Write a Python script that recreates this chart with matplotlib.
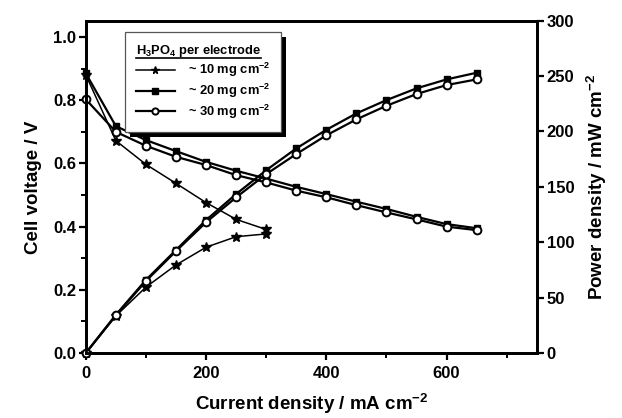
import numpy as np
import matplotlib
matplotlib.use('Agg')
import matplotlib.pyplot as plt
from matplotlib.lines import Line2D
from matplotlib.patches import Rectangle

plt.rcParams['font.family'] = ['Liberation Sans', 'DejaVu Sans']
plt.rcParams['font.weight'] = 'bold'
plt.rcParams['mathtext.fontset'] = 'custom'
plt.rcParams['mathtext.rm'] = 'Liberation Sans:bold'
plt.rcParams['mathtext.bf'] = 'Liberation Sans:bold'
plt.rcParams['mathtext.default'] = 'bf'

# current density (mA cm-2)
j_10 = [0, 50, 100, 150, 200, 250, 300]
j_20 = [0, 50, 100, 150, 200, 250, 300, 350, 400, 450, 500, 550, 600, 650]
j_30 = j_20

# cell voltage (V)
v_10 = [0.88, 0.672, 0.597, 0.537, 0.476, 0.423, 0.391]
v_20 = [0.885, 0.718, 0.674, 0.639, 0.605, 0.577, 0.552, 0.526, 0.503, 0.479, 0.456, 0.431, 0.408, 0.395]
v_30 = [0.803, 0.700, 0.656, 0.621, 0.595, 0.563, 0.540, 0.514, 0.493, 0.468, 0.445, 0.423, 0.400, 0.389]

# power density (mW cm-2)
p_10 = [0, 33.5, 59.5, 79.5, 95.5, 105, 107.5]
p_20 = [0, 34.5, 66, 93, 120, 143.5, 165, 184.7, 201.5, 216.3, 228.3, 238.9, 247, 253]
p_30 = [0, 34, 65, 92, 118, 140.5, 161.5, 179.6, 196.5, 210.9, 223.2, 233.8, 241.9, 247]

labels = ['~ 10 mg cm$^{-2}$', '~ 20 mg cm$^{-2}$', '~ 30 mg cm$^{-2}$']

fig = plt.figure(figsize=(6.22, 4.18), dpi=100)
ax = fig.add_axes([0.138, 0.1555, 0.725, 0.795])
ax2 = ax.twinx()

sty10 = dict(color='k', lw=1.1, marker='*', ms=7, mfc='k', mec='k', clip_on=False)
sty20 = dict(color='k', lw=1.6, marker='s', ms=4.8, mfc='k', mec='k', clip_on=False)
sty30 = dict(color='k', lw=1.6, marker='o', ms=5.6, mfc='white', mec='k', mew=1.4, clip_on=False)

h10, = ax.plot(j_10, v_10, **sty10)
h20, = ax.plot(j_20, v_20, **sty20)
h30, = ax.plot(j_30, v_30, **sty30)
ax2.plot(j_10, p_10, **sty10)
ax2.plot(j_20, p_20, **sty20)
ax2.plot(j_30, p_30, **sty30)

ax.set_xlim(0, 750)
ax.set_ylim(0, 1.052)
ax2.set_ylim(0, 300)

ax.set_xticks([0, 200, 400, 600])
ax.set_xticks([100, 300, 500, 700], minor=True)
ax.set_yticks([0.0, 0.2, 0.4, 0.6, 0.8, 1.0])
ax.set_yticks([0.1, 0.3, 0.5, 0.7, 0.9], minor=True)
ax.set_yticklabels(['0.0', '0.2', '0.4', '0.6', '0.8', '1.0'])
ax2.set_yticks([0, 50, 100, 150, 200, 250, 300])

for a in (ax, ax2):
    for s in a.spines.values():
        s.set_linewidth(2)
    a.tick_params(which='major', direction='out', length=5, width=1.6, labelsize=12, pad=2)
    a.tick_params(which='minor', direction='out', length=3.5, width=1.4)
ax.tick_params(axis='y', which='both', right=False)
ax.tick_params(axis='x', which='both', top=False, pad=4)

ax.set_xlabel('Current density / mA cm$^{-2}$', fontsize=13.5, fontweight='bold', labelpad=8)
ax.set_ylabel('Cell voltage / V', fontsize=13.5, fontweight='bold', labelpad=8)
ax2.set_ylabel('Power density / mW cm$^{-2}$', fontsize=13.5, fontweight='bold', labelpad=8)

leg = ax2.legend([h10, h20, h30], labels, title='H$_3$PO$_4$ per electrode',
                 loc='upper left', bbox_to_anchor=(0.0869, 0.967), borderaxespad=0,
                 fancybox=False, shadow=False, framealpha=1,
                 edgecolor='#555555', fontsize=9.3, title_fontsize=9.3,
                 alignment='left', handlelength=3.0, handletextpad=1.0,
                 borderpad=0.85, labelspacing=0.2, markerscale=0.8)
leg.get_frame().set_linewidth(0.9)
leg.get_title().set_fontweight('bold')
leg.set_zorder(6)

# legend drop shadow and title underline, placed from the laid-out legend
fig.canvas.draw()
r = fig.canvas.get_renderer()
to_ax = ax2.transAxes.inverted()
lb = leg.get_window_extent(r).transformed(to_ax)
tb = leg.get_title().get_window_extent(r).transformed(to_ax)
dx = 5 / ax2.bbox.width
dy = 5 / ax2.bbox.height
ax2.add_patch(Rectangle((lb.x0 + dx, lb.y0 - dy), lb.width, lb.height, transform=ax2.transAxes,
                        facecolor='k', edgecolor='none', zorder=5.5, clip_on=False))
uy = tb.y0 + 1.0 / ax2.bbox.height
ax2.add_line(Line2D([tb.x0, tb.x1], [uy, uy], transform=ax2.transAxes,
                    color='k', lw=1.2, zorder=7, clip_on=False))

fig.savefig('out.png', dpi=100)
